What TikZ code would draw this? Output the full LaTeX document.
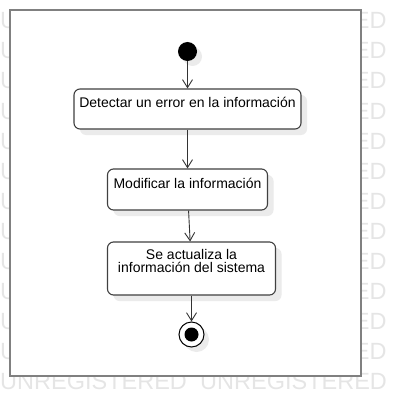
\documentclass[tikz,border=0pt]{standalone}
\usepackage{fontspec}
\setmainfont{Liberation Sans}
\usepackage{tikz}
\usetikzlibrary{shapes,arrows.meta,shadows}
\tikzstyle{activity} = [rectangle, draw=black!75, line width=1.1pt, rounded corners=6pt, fill=white, drop shadow={shadow xshift=6pt, shadow yshift=-6pt, fill=black!8, opacity=1}, inner xsep=3pt, inner ysep=4pt, text=black, font=\fontsize{14}{13}\selectfont, align=center]
\tikzstyle{line} = [draw, black!80, line width=0.9pt, -{Straight Barb[length=8pt,width=10pt]}]
\tikzstyle{initnode} = [circle, fill=black, minimum size=19pt, inner sep=0pt, drop shadow={shadow xshift=5pt, shadow yshift=-5pt, fill=black!8, opacity=1}]
\tikzstyle{finalnode} = [circle, draw=black, line width=1pt, fill=white, minimum size=25pt, inner sep=0pt, drop shadow={shadow xshift=5pt, shadow yshift=-5pt, fill=black!8, opacity=1}]
\tikzstyle{finaldot} = [circle, fill=black, minimum size=14pt, inner sep=0pt]
\tikzstyle{watermark} = [anchor=base west, inner sep=0pt, text=black!10, font=\fontsize{23.5}{23.5}\selectfont]

\begin{document}
\begin{tikzpicture}[x=1pt, y=-1pt, node distance=80pt]
    \useasboundingbox (0,0) rectangle (401,417);
    % watermark, only its ends show beside the frame
    \foreach \row in {0,...,11} {
        \node [watermark] (wm-\row-a) at (0,29+30*\row) {U};
        \node [watermark, anchor=base east] (wm-\row-b) at (386.7,29+30*\row) {ED};
    }
    \node [watermark] (wm-12-a) at (0,389) {UNREGISTERED};
    \node [watermark] (wm-12-b) at (200,389) {UNREGISTERED};
    \draw [black!50, line width=2pt, fill=white] (10,10) rectangle (361,376);

    \node [initnode] (init) at (187.5,51.5) {};
    \node [activity, below of=init, node distance=57.5pt, minimum width=227pt, text height=14pt, text depth=18pt] (detect) {Detectar un error en la información};
    \node [activity, below of=detect, node distance=80.5pt, minimum width=160pt, text height=15pt, text depth=18pt] (modify) {Modificar la información};
    \node [activity, below of=modify, node distance=79pt, xshift=4pt, minimum width=168pt, text height=26pt, text depth=19pt] (update) {Se actualiza la\\información del sistema};
    \node [finalnode, below of=update, node distance=66pt] (final) {};
    \node [finaldot] (final-dot) at (final) {};

    \path [line] (init) -- (detect);
    \path [line] (detect) -- (modify);
    \path [line] (modify) -- (update);
    \path [line] (update) -- (final);
\end{tikzpicture}
\end{document}
